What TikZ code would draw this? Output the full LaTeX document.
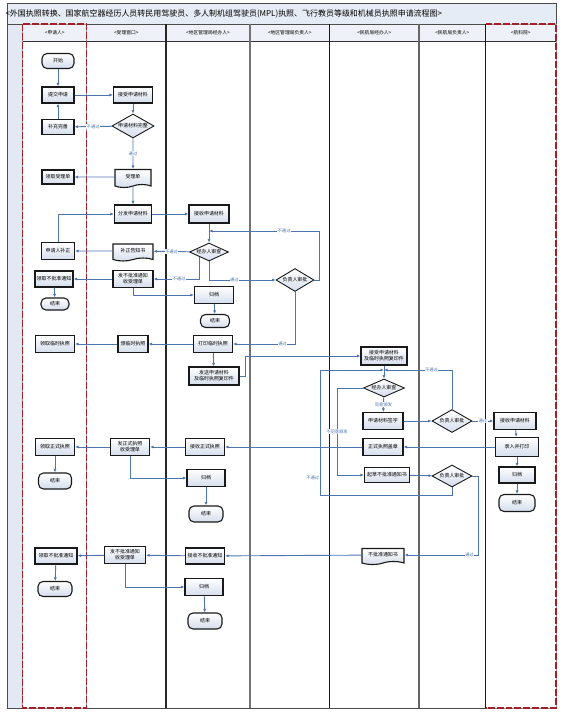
\documentclass[tikz,border=0pt]{standalone}
\usepackage{fontspec}
\setmainfont{Noto Sans CJK SC}
\usepackage{tikz}
\usetikzlibrary{positioning,arrows.meta,shapes.geometric,shapes.symbols,calc}
\definecolor{flowBlue}{HTML}{4F75B0}
\definecolor{boxFill}{HTML}{D5DEED}
\definecolor{laneBlue}{HTML}{E2E9F4}
\definecolor{headFill}{HTML}{EEF2F8}
\definecolor{titleFill}{HTML}{E6ECF5}
\definecolor{laneRed}{HTML}{A3202B}

\begin{document}
\begin{tikzpicture}[x=1bp, y=-1bp,
    task/.style={draw=black!90, line width=1.1pt, top color=white, bottom color=boxFill, minimum width=39bp, minimum height=16bp, inner sep=1bp, font=\fontsize{5}{6}\selectfont, align=center},
    term/.style={task, rounded corners=5bp, minimum width=32bp, minimum height=15bp},
    check/.style={diamond, draw=black!90, line width=0.9pt, top color=white, bottom color=boxFill, aspect=2, inner sep=0.5bp, minimum width=40bp, minimum height=22bp, font=\fontsize{5}{6}\selectfont},
    doc/.style={task, shape=tape, tape bend top=none, tape bend height=3bp},
    head/.style={font=\fontsize{4.8}{5}\selectfont},
    lbl/.style={font=\fontsize{4.3}{4.8}\selectfont, fill=white, inner sep=0.4bp},
    arrow/.style={-{Latex[length=3.5bp,width=3bp]}, flowBlue, line width=0.9pt},
  ]
  \useasboundingbox (0,0) rectangle (562,718);

  % Frame, title and lane heads
  \fill[titleFill] (7,4) rectangle (556,24);
  \fill[headFill] (22.7,24) rectangle (556,41);
  \fill[laneBlue] (7,24) rectangle (22.7,708);
  \draw[black!70, line width=1pt] (7,4) rectangle (556,708);
  \draw[black!70, line width=0.8pt] (7,24) -- (556,24);
  \draw[black!80, line width=0.8pt] (22.7,41) -- (556,41);
  \foreach \x/\c in {166/black!85, 250/black!55, 329.5/black!90, 419/black!60, 485.5/black!90}
    \draw[\c, line width=1.1pt] (\x,24) -- (\x,708);
  \draw[black!40, line width=0.6pt] (22.7,24) rectangle (86.7,708);
  \draw[laneRed, line width=1.1pt, dash pattern=on 7pt off 2pt] (22.7,24) rectangle (86.7,708);
  \draw[black!90, line width=1pt] (485.5,24) -- (485.5,708);
  \draw[black!40, line width=0.6pt] (485.5,24) -- (556,24) -- (556,708) -- (485.5,708);
  \draw[laneRed, line width=1.1pt, dash pattern=on 7pt off 2pt] (485.5,24) -- (556,24) -- (556,708) -- (485.5,708);

  \node[anchor=west, font=\fontsize{8}{9}\selectfont] (title) at (2,14) {<外国执照转换、国家航空器经历人员转民用驾驶员、多人制机组驾驶员(MPL)执照、飞行教员等级和机械员执照申请流程图>};
  \node[head] (hdApplicant) at (54.7,32.5) {<申请人>};
  \node[head] (hdWindow) at (126.3,32.5) {<受理窗口>};
  \node[head] (hdRegClerk) at (208,32.5) {<地区管理局经办人>};
  \node[head] (hdRegHead) at (289.8,32.5) {<地区管理局负责人>};
  \node[head] (hdCapClerk) at (374.3,32.5) {<民航局经办人>};
  \node[head] (hdCapHead) at (452.3,32.5) {<民航局负责人>};
  \node[head] (hdAcad) at (520.8,32.5) {<航科院>};

  % Applicant
  \node[term] (start) at (58,61) {开始};
  \node[task, minimum width=32bp] (submit) at (58,95) {提交申请};
  \node[task, minimum width=32bp, minimum height=15bp] (supplement) at (58,127) {补充完善};
  \node[task, minimum width=32bp, minimum height=14bp] (getReceipt) at (58,177) {领取受理单};
  \node[task, minimum width=33bp, minimum height=17bp] (appFix) at (58,251) {申请人补正};
  \node[task, minimum width=38bp] (getReject1) at (54,279) {领取不批准通知};
  \node[term, minimum width=28bp, minimum height=12bp] (end1) at (55,304) {结束};
  \node[task, minimum height=17bp] (getTemp) at (55,344) {领取临时执照};
  \node[task, minimum height=17bp] (getFormal) at (55,447) {领取正式执照};
  \node[term, minimum width=33bp, minimum height=16bp] (end2) at (55,481) {结束};
  \node[task, minimum width=42bp] (getReject2) at (56,556) {领取不批准通知};
  \node[term, minimum width=34bp] (end3) at (55,589) {结束};

  % Acceptance window
  \node[task] (accept) at (133,95) {接受申请材料};
  \node[check, minimum width=41bp, minimum height=24bp] (complete) at (133,126) {申请材料完整};
  \node[doc, minimum width=36bp, minimum height=18bp] (receipt) at (133,177) {受理单};
  \node[task, minimum width=37bp, minimum height=18bp] (dispatch) at (133,214) {分发申请材料};
  \node[doc, minimum width=40bp, minimum height=17bp] (fixNotice) at (133,251) {补正告知书};
  \node[task, minimum width=40bp, minimum height=17bp] (sendReject1) at (133,279) {发不批准通知\\收受理单};
  \node[task, minimum width=30bp, minimum height=17bp] (issueTemp) at (133,344) {颁临时执照};
  \node[task, minimum height=17bp] (sendFormal) at (130,447) {发正式执照\\收受理单};
  \node[task, minimum width=41bp, minimum height=17bp] (sendReject2) at (125,555) {发不批准通知\\收受理单};

  % Regional clerk
  \node[task, minimum width=40bp, minimum height=18bp] (regReceive) at (209,214) {接收申请材料};
  \node[check, aspect=2.3, minimum width=39bp, minimum height=18bp] (regCheck) at (209,252) {经办人审查};
  \node[task, minimum height=17bp] (regFile1) at (214,295) {归档};
  \node[term, minimum width=29bp, minimum height=13bp] (regEnd1) at (215,321) {结束};
  \node[task, minimum height=17bp] (printTemp) at (213,344) {打印临时执照};
  \node[task, minimum width=50bp, minimum height=18bp] (sendCopy) at (214,376) {发送申请材料\\及临时执照复印件};
  \node[task, minimum height=17bp] (regFormal) at (205,447) {接收正式执照};
  \node[task, minimum width=38bp, minimum height=17bp] (regFile2) at (206,478) {归档};
  \node[term, minimum width=34bp, minimum height=16bp] (regEnd2) at (206,514) {结束};
  \node[task] (regReject) at (205,556) {接收不批准通知};
  \node[task, minimum width=38bp, minimum height=17bp] (regFile3) at (204,587) {归档};
  \node[term, minimum width=34bp, minimum height=16bp] (regEnd3) at (205,621) {结束};

  % Regional head
  \node[check, minimum width=38bp, minimum height=23bp] (regApprove) at (295,280) {负责人审批};

  % CAAC clerk
  \node[task, minimum width=46bp, minimum height=18bp] (capReceive) at (384,356) {接受申请材料\\及临时执照复印件};
  \node[check, aspect=2.3, minimum width=41bp, minimum height=18bp] (capCheck) at (384,388) {经办人审查};
  \node[task, minimum width=40bp, minimum height=17bp] (capSign) at (383,421) {申请材料签字};
  \node[task, minimum width=40bp, minimum height=17bp] (capStamp) at (383,447) {正式执照盖章};
  \node[task, minimum width=45bp, minimum height=15bp] (capDraft) at (387,475) {起草不批准通知书};
  \node[doc, minimum width=42bp, minimum height=16bp] (capNotice) at (383,555) {不批准通知书};

  % CAAC head
  \node[check, minimum height=23bp] (capApprove1) at (452,421) {负责人审批};
  \node[check] (capApprove2) at (452,476) {负责人审批};

  % Academy
  \node[task, minimum width=42bp, minimum height=17bp] (acadReceive) at (515,421) {接收申请材料};
  \node[task, minimum width=43bp, minimum height=19bp] (acadPrint) at (517,447) {录入并打印};
  \node[task, minimum width=36bp] (acadFile) at (517,475) {归档};
  \node[term, minimum width=36bp, minimum height=17bp] (acadEnd) at (517,503) {结束};

  \coordinate (regLoop) at (209,231);
  \coordinate (capLoop) at (384,370);
  \coordinate (capLoopL) at (320,370);

  % Arrows
  \draw[arrow] (start) -- (submit);
  \draw[arrow] (submit) -- (accept);
  \draw[arrow] (accept) -- (complete);
  \draw[arrow] (complete) -- node[lbl]{不通过} (supplement);
  \draw[arrow] (supplement) -- (submit);
  \draw[arrow] (complete) -- node[lbl]{通过} (receipt);
  \draw[arrow] (receipt) -- (getReceipt);
  \draw[arrow] (receipt) -- (dispatch);
  \draw[arrow] (dispatch) -- (regReceive);
  \draw[arrow] (regReceive) -- (regCheck);
  \draw[arrow] (regCheck) -- node[lbl]{不通过} (fixNotice);
  \draw[arrow] (fixNotice) -- (appFix);
  \draw[arrow] (appFix) |- (dispatch);
  \draw[arrow] (regCheck.south west) |- node[lbl, pos=0.72]{不通过} (sendReject1.east);
  \draw[arrow] (regCheck.south) |- node[lbl, pos=0.69]{通过} (regApprove.west);
  \draw[arrow] (regApprove.east) -- ++(5,0) |- node[lbl, pos=0.66]{不通过} (regLoop);
  \draw[arrow] (sendReject1) -- (getReject1);
  \draw[arrow] (getReject1) -- (end1);
  \draw[arrow] (sendReject1.south) |- (regFile1.west);
  \draw[arrow] (regFile1) -- (regEnd1);
  \draw[arrow] (regApprove.south) |- node[lbl, pos=0.6]{通过} (printTemp.east);
  \draw[arrow] (printTemp) -- (issueTemp);
  \draw[arrow] (issueTemp) -- (getTemp);
  \draw[arrow] (printTemp) -- (sendCopy);
  \draw[arrow] (sendCopy.east) -- ++(6,0) |- (capReceive.west);
  \draw[arrow] (capReceive) -- (capCheck);
  \draw[arrow] (capApprove1.north) |- node[lbl, pos=0.65]{不通过} (capLoop);
  \draw[arrow] (capCheck) -- node[lbl]{同意颁发} (capSign);
  \draw[arrow] (capSign) -- (capApprove1);
  \draw[arrow] (capApprove1) -- node[lbl]{通过} (acadReceive);
  \draw[arrow] (acadReceive) -- (acadPrint);
  \draw[arrow] (acadPrint) -- (capStamp);
  \draw[arrow] (acadPrint) -- (acadFile);
  \draw[arrow] (acadFile) -- (acadEnd);
  \draw[arrow] (capStamp) -- (regFormal);
  \draw[arrow] (regFormal) -- (sendFormal);
  \draw[arrow] (sendFormal) -- (getFormal);
  \draw[arrow] (getFormal) -- (end2);
  \draw[arrow] (sendFormal.south) |- (regFile2.west);
  \draw[arrow] (regFile2) -- (regEnd2);
  \draw[arrow] (capCheck.west) -- ++(-26,0) |- node[lbl, pos=0.25]{不同意颁发} (capDraft.west);
  \draw[arrow] (capDraft) -- (capApprove2);
  \draw[arrow] (capApprove2.south) -- ++(0,8) -| node[lbl, pos=0.57, anchor=east]{不通过} (capLoopL) -- (capLoop);
  \draw[arrow] (capApprove2.east) -- ++(6,0) |- node[lbl, pos=0.56]{通过} (capNotice.east);
  \draw[arrow] (capNotice) -- (regReject);
  \draw[arrow] (regReject) -- (sendReject2);
  \draw[arrow] (sendReject2) -- (getReject2);
  \draw[arrow] (getReject2) -- (end3);
  \draw[arrow] (sendReject2.south) |- (regFile3.west);
  \draw[arrow] (regFile3) -- (regEnd3);
\end{tikzpicture}
\end{document}
